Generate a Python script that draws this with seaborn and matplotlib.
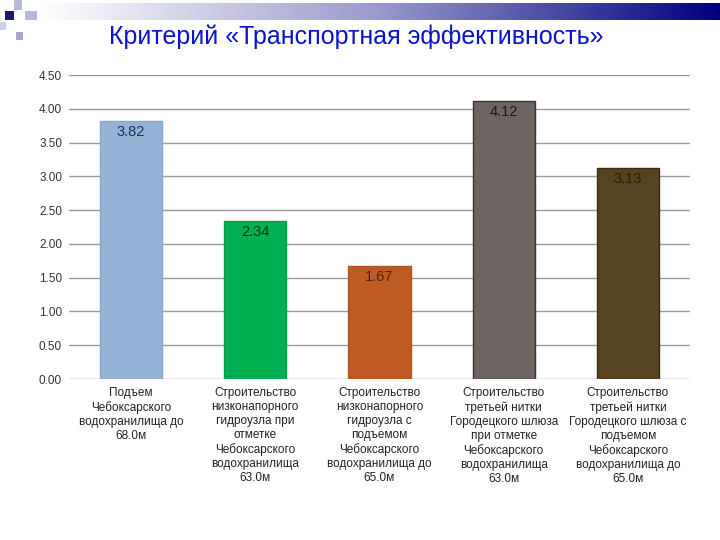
import matplotlib
matplotlib.use("Agg")
import matplotlib.pyplot as plt
import numpy as np
import pandas as pd
import seaborn as sns
from matplotlib.patches import Rectangle
from matplotlib.colors import LinearSegmentedColormap

categories = [
    "Подъем\nЧебоксарского\nводохранилища до\n68.0м",
    "Строительство\nнизконапорного\nгидроузла при\nотметке\nЧебоксарского\nводохранилища\n63.0м",
    "Строительство\nнизконапорного\nгидроузла с\nподъемом\nЧебоксарского\nводохранилища до\n65.0м",
    "Строительство\nтретьей нитки\nГородецкого шлюза\nпри отметке\nЧебоксарского\nводохранилища\n63.0м",
    "Строительство\nтретьей нитки\nГородецкого шлюза с\nподъемом\nЧебоксарского\nводохранилища до\n65.0м",
]
values = [3.82, 2.34, 1.67, 4.12, 3.13]
value_labels = ["3.82", "2.34", "1.67", "4.12", "3.13"]
bar_colors = ["#95B3D7", "#00B050", "#BE5B24", "#6E6462", "#584321"]
edge_colors = ["#8AA6C8", "#00A048", "#B05420", "#3A3433", "#3B2C12"]
text_colors = ["#1F3050", "#0B3A1A", "#5A1E05", "#1A1A1A", "#2A1F0A"]
title = "Критерий «Транспортная эффективность»"
yticks = [0, 0.5, 1.0, 1.5, 2.0, 2.5, 3.0, 3.5, 4.0, 4.5]

sns.set_theme(style="white")
plt.rcParams["font.family"] = ["Liberation Sans", "DejaVu Sans"]

fig = plt.figure(figsize=(7.2, 5.4), dpi=100)

# header gradient band
hax = fig.add_axes([40 / 720, 1 - 20 / 540, 680 / 720, 17 / 540])
grad = np.linspace(0, 1, 256).reshape(1, -1)
cmap = LinearSegmentedColormap.from_list("hdr", ["#FFFFFF", "#9999CC", "#000080"])
hax.imshow(grad, aspect="auto", cmap=cmap, extent=[0, 1, 0, 1])
hax.axis("off")

# decorative squares
for (x, y, w, h, c) in [
    (5, 11, 9, 9, "#1A1A70"),
    (14, 0, 8, 10, "#B8B8D8"),
    (25, 11, 12, 9, "#B8B8D8"),
    (16, 32, 7, 8, "#A8A8D0"),
    (0, 22, 6, 8, "#D0D0E8"),
]:
    fig.patches.append(Rectangle((x / 720, 1 - (y + h) / 540), w / 720, h / 540,
                                 transform=fig.transFigure, facecolor=c, edgecolor="none"))

fig.text(356 / 720, 1 - 37 / 540, title, ha="center", va="center",
         fontsize=18, color="#0A14C8")

ax = fig.add_axes([69 / 720, 1 - 379 / 540, 621 / 720, 304 / 540])
df = pd.DataFrame({"cat": categories, "val": values})
sns.barplot(data=df, x="cat", y="val", hue="cat", palette=bar_colors,
            saturation=1, legend=False, width=0.5, ax=ax, zorder=3)
for p, ec in zip(ax.patches, edge_colors):
    p.set_edgecolor(ec)
    p.set_linewidth(1.0)

for i, (v, lab) in enumerate(zip(values, value_labels)):
    ax.annotate(lab, (i, v), xytext=(0, -3), textcoords="offset points",
                ha="center", va="top", fontsize=10.5, color=text_colors[i], zorder=4)

ax.set_ylim(0, 4.5)
ax.set_xlim(-0.5, 4.5)
ax.set_yticks(yticks)
ax.set_yticklabels([f"{t:.2f}" for t in yticks], fontsize=8.5, color="#333333")
ax.tick_params(axis="y", length=0, pad=5)
ax.tick_params(axis="x", length=0, pad=6)
ax.set_xticks(range(len(categories)))
ax.set_xticklabels(categories, fontsize=8.5, color="#222222", linespacing=1.22)
ax.set_xlabel("")
ax.set_ylabel("")
ax.grid(axis="y", color="#9A9A9A", linewidth=1.0, zorder=0)
for s in ax.spines.values():
    s.set_visible(False)

fig.savefig("out.png", dpi=100, facecolor="white")
